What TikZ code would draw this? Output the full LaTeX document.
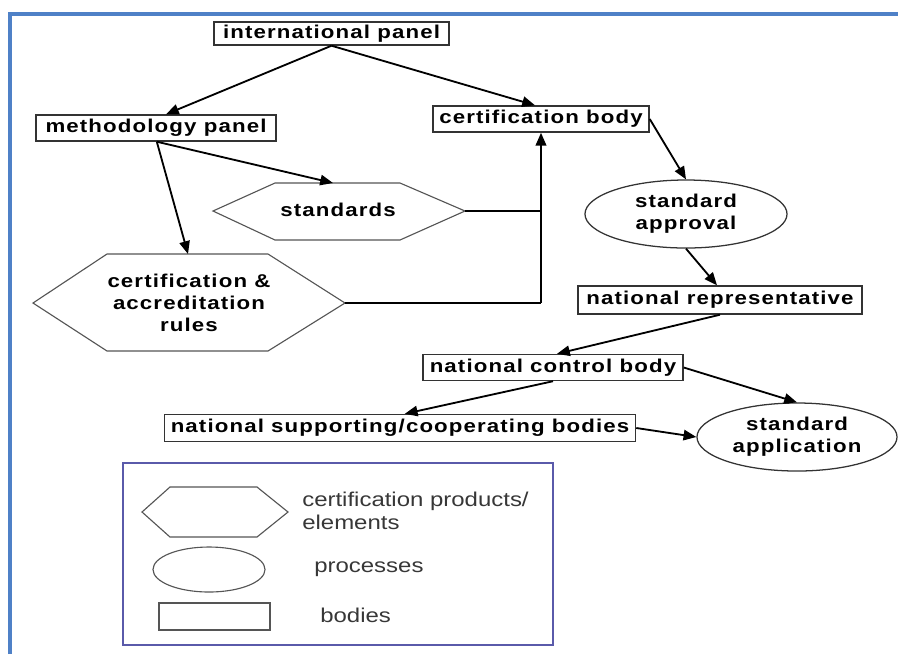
\documentclass[tikz,border=0pt]{standalone}
\usepackage{fontspec}
\setmainfont{Liberation Sans}
\newfontfamily\lblfont{Liberation Sans}[FakeStretch=1.2,LetterSpace=6]
\newfontfamily\legfont{Liberation Sans}[FakeStretch=1.2]
\usetikzlibrary{shapes.geometric,arrows.meta,calc}
\definecolor{frameblue}{RGB}{79,129,199}
\definecolor{legblue}{RGB}{90,90,170}
\definecolor{shapegray}{RGB}{85,85,85}
\definecolor{legtext}{RGB}{55,55,55}
\tikzset{
  lbl/.style={font=\lblfont\bfseries\fontsize{13.2}{15.8}\selectfont, text=black, align=center},
  bodybox/.style={lbl, draw=black!80, line width=1pt, rectangle, inner sep=0pt},
  procell/.style={lbl, draw=black!80, line width=0.9pt, ellipse, inner sep=0pt},
  hexline/.style={draw=shapegray, line width=0.8pt, line join=miter},
  conn/.style={line width=1.3pt, -{Triangle[length=3.2mm,width=2.6mm]}},
  plain/.style={line width=1.3pt},
  legtxt/.style={font=\legfont\fontsize{14.2}{16}\selectfont, text=legtext, align=left, anchor=west, inner sep=0pt}
}
\begin{document}
\begin{tikzpicture}[x=0.025cm,y=-0.025cm]
\useasboundingbox (0,0) rectangle (898,654);
% frame
\draw[frameblue, line width=2.2pt] (10,654) -- (10,14) -- (898,14);

% bodies
\node[bodybox, minimum width=5.875cm, minimum height=0.575cm] (intl) at (331.5,33.5) {international panel};
\node[bodybox, minimum width=6cm, minimum height=0.65cm] (meth) at (156,128) {methodology panel};
\node[bodybox, minimum width=5.4cm, minimum height=0.65cm] (cbody) at (541,119) {certification body};
\node[bodybox, minimum width=7.1cm, minimum height=0.7cm] (natrep) at (720,300) {national representative};
\node[bodybox, minimum width=6.5cm, minimum height=0.65cm] (ncb) at (553,367.5) {national control body};
\node[bodybox, minimum width=11.775cm, minimum height=0.675cm] (nsup) at (400,428) {national supporting/cooperating bodies};

% processes
\node[procell, minimum width=5.05cm, minimum height=1.7cm] (sap) at (686,214) {standard\\approval};
\node[procell, minimum width=5cm, minimum height=1.7cm] (sapp) at (797,437) {standard\\application};

% products (hexagons)
\draw[hexline] (213,211) -- (275,183) -- (400,183) -- (465,211) -- (400,240) -- (275,240) -- cycle;
\node[lbl] (std) at (338,210) {standards};
\coordinate (stdT) at (333,183);
\coordinate (stdR) at (465,211);
\draw[hexline] (33,303) -- (107,254) -- (268,254) -- (345,303) -- (268,351) -- (107,351) -- cycle;
\node[lbl] (rules) at (189,303) {certification \&\\accreditation\\rules};
\coordinate (rulesT) at (188,254);
\coordinate (rulesR) at (345,303);
\coordinate (jStd) at (541,211);
\coordinate (jRules) at (541,303);

% connectors
\draw[conn] (intl.south) -- ([xshift=0.25cm]meth.north);
\draw[conn] (intl.south) -- ([xshift=-0.15cm]cbody.north);
\draw[conn] ([xshift=0.02cm]meth.south) -- (stdT);
\draw[conn] ([xshift=0.02cm]meth.south) -- (rulesT);
\draw[plain] (stdR) -- (jStd);
\draw[plain] (rulesR) -- (jRules);
\draw[conn, line width=1.6pt] (jRules) -- (cbody.south);
\draw[conn] (cbody.east) -- (sap.north);
\draw[conn] (sap.south) -- ([xshift=-0.075cm]natrep.north);
\draw[conn] (natrep.south) -- ([xshift=0.1cm]ncb.north);
\draw[conn] (ncb.east) -- (sapp.north);
\draw[conn] (ncb.south) -- ([xshift=0.12cm]nsup.north);
\draw[conn] (nsup.east) -- (sapp.west);

% legend
\draw[legblue, line width=1.1pt] (123,463) rectangle (553,645);
\draw[hexline] (142,512) -- (170,487) -- (257,487) -- (288,512) -- (257,537) -- (170,537) -- cycle;
\node[draw=shapegray, line width=0.8pt, ellipse, inner sep=0pt, minimum width=2.8cm, minimum height=1.125cm] (lell) at (209,569.5) {};
\node[draw=shapegray, line width=1pt, rectangle, inner sep=0pt, minimum width=2.775cm, minimum height=0.675cm] (lrect) at (214.5,616.5) {};
\node[legtxt] (lt1) at (302,511) {certification products/\\elements};
\node[legtxt] (lt2) at (314,569) {processes};
\node[legtxt] (lt3) at (320,615) {bodies};
\end{tikzpicture}
\end{document}
